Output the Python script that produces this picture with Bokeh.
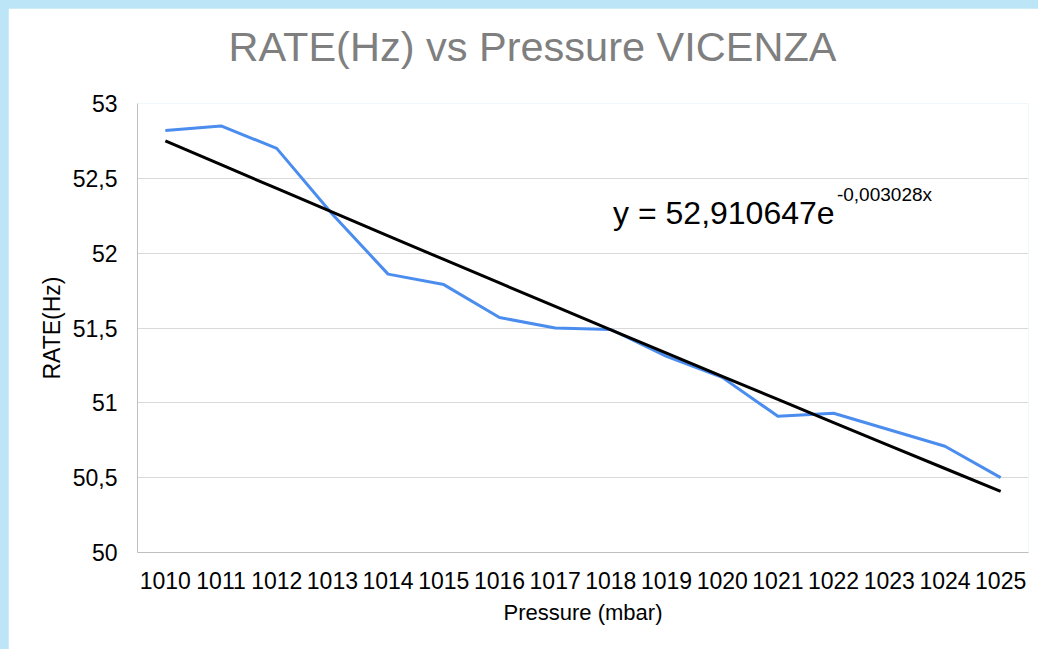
import math
from bokeh.plotting import figure
from bokeh.models import Range1d, FixedTicker, Label, Title
from bokeh.embed import file_html
from bokeh.resources import INLINE

# ---- data ----
pressure = ["1010", "1011", "1012", "1013", "1014", "1015", "1016", "1017",
            "1018", "1019", "1020", "1021", "1022", "1023", "1024", "1025"]
rate = [52.82, 52.85, 52.70, 52.26, 51.86, 51.79, 51.57, 51.50,
        51.49, 51.31, 51.17, 50.91, 50.93, 50.82, 50.71, 50.50]
# exponential trendline shown on the chart: y = a * e^(b*x), x = 1..16
trend_a = 52.910647
trend_b = -0.003028
trend = [trend_a * math.exp(trend_b * (i + 1)) for i in range(len(pressure))]

y_tick_values = [50.0, 50.5, 51.0, 51.5, 52.0, 52.5, 53.0]
y_tick_labels = ["50", "50,5", "51", "51,5", "52", "52,5", "53"]

title_text = "RATE(Hz) vs Pressure VICENZA"
x_label = "Pressure (mbar)"
y_label = "RATE(Hz)"
eq_main = "y = 52,910647e"
eq_sup = "-0,003028x"

FONT = "Liberation Sans"

p = figure(x_range=pressure, y_range=Range1d(50, 53), title=None,
           width=1030, height=641, output_backend="svg", toolbar_location=None,
           min_border_left=129, min_border_right=10, min_border_top=95,
           min_border_bottom=97)
p.margin = (8, 0, 0, 8)

p.background_fill_color = "white"
p.border_fill_color = "white"
p.outline_line_color = None

# spacer between plot area and title (nearest the frame)
p.add_layout(Title(text=" ", text_font=FONT, text_font_size="10px", standoff=21), "above")
# title
p.add_layout(Title(text=title_text, text_font=FONT, text_font_size="41.5px",
                   text_font_style="normal", text_color="#7f7f7f",
                   align="left", offset=91, standoff=0), "above")

# axes
for ax in (p.xaxis[0], p.yaxis[0]):
    ax.axis_line_color = "#bfbfbf"
    ax.axis_line_width = 1
    ax.major_tick_line_color = None
    ax.minor_tick_line_color = None
    ax.major_tick_out = 0
    ax.major_tick_in = 0
    ax.major_label_text_font = FONT
    ax.major_label_text_font_size = "23px"
    ax.major_label_text_color = "#000000"
    ax.axis_label_text_font = FONT
    ax.axis_label_text_font_style = "normal"
    ax.axis_label_text_color = "#000000"

p.xaxis.axis_label = x_label
p.xaxis.axis_label_text_font_size = "22px"
p.xaxis.major_label_standoff = 19
p.xaxis.axis_label_standoff = 8

p.yaxis.axis_label = y_label
p.yaxis.axis_label_text_font_size = "23px"
p.yaxis.ticker = FixedTicker(ticks=y_tick_values)
p.yaxis.major_label_overrides = {v: s for v, s in zip(y_tick_values, y_tick_labels)}
p.yaxis.major_label_standoff = 20
p.yaxis.axis_label_standoff = 5

p.xgrid.grid_line_color = None
p.ygrid.ticker = FixedTicker(ticks=y_tick_values)
p.ygrid.grid_line_color = "#d9d9d9"
p.ygrid.grid_line_width = 1

# series
p.line(x=pressure, y=rate, line_color="#4b8def", line_width=3, line_join="round")
p.line(x=pressure, y=trend, line_color="#000000", line_width=3, line_join="round")

# equation
p.add_layout(Label(x=8.54, y=52.266, text=eq_main, text_font=FONT,
                   text_font_size="32px", text_color="#000000",
                   text_baseline="alphabetic", text_align="left"))
p.add_layout(Label(x=12.56, y=52.39, text=eq_sup, text_font=FONT,
                   text_font_size="19px", text_color="#000000",
                   text_baseline="alphabetic", text_align="left"))

html = file_html(p, INLINE)
html = html.replace("</head>", "<style>html, body { background: #bce6f7 !important; }</style></head>", 1)
open("out.html", "w").write(html)
